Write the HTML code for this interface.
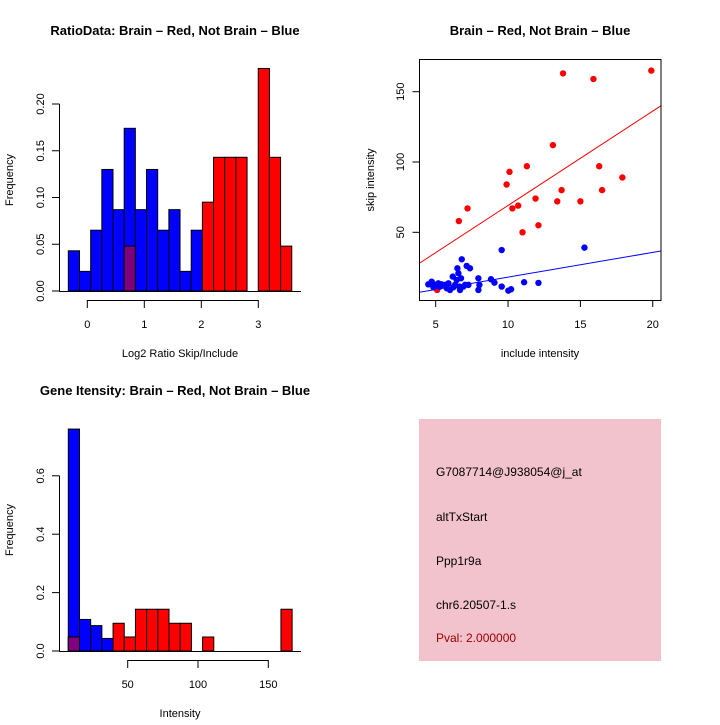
<!DOCTYPE html>
<html><head><meta charset="utf-8"><style>
html,body{margin:0;padding:0;background:#fff;}
svg text{font-family:"Liberation Sans",sans-serif;}
</style></head><body>
<svg id="fig" width="720" height="720" xmlns="http://www.w3.org/2000/svg">
<rect x="0" y="0" width="720" height="720" fill="#fff"/>
<g id="p1"></g>
<g id="p2"></g>
<g id="p3"></g>
<g id="p4">
<rect x="419" y="419" width="242" height="242" fill="#f2c3cd"/>
<text x="436" y="476" font-size="12">G7087714@J938054@j_at</text>
<text x="436" y="521" font-size="12">altTxStart</text>
<text x="436" y="565" font-size="12">Ppp1r9a</text>
<text x="436" y="609" font-size="12">chr6.20507-1.s</text>
<text x="436" y="642" font-size="12" fill="#a00000">Pval: 2.000000</text>
</g>
</svg>
<script>
// ---- Ratio histogram data ----
const ratioBinStart = -0.333;
const ratioBinWidth = 0.196;
const ratioBlue = [0.043,0.021,0.065,0.130,0.087,0.174,0.087,0.130,0.065,0.087,0.021,0.065,0,0,0,0,0,0,0,0];
const ratioRed  = [0,0,0,0,0,0.048,0,0,0,0,0,0,0.095,0.143,0.143,0.143,0,0.238,0.143,0.048];
const ratioXTicks = [0,1,2,3];
const ratioYTicks = [0,0.05,0.10,0.15,0.20];
const ratioYLabels = ["0.00","0.05","0.10","0.15","0.20"];
// ---- Scatter data ----
const redX = [6.6,7.2,9.9,10.1,10.3,10.7,11.0,11.3,11.9,12.1,13.1,13.4,13.7,13.8,15.0,15.9,16.3,16.5,17.9,19.9,5.1];
const redY = [58,67,84,93,67,69,50,97,74,55,112,72,80,163,72,159,97,80,89,165,9];
const blueX = [4.49,4.72,4.95,5.12,5.41,5.65,5.88,5.99,6.18,6.34,6.45,6.50,6.57,6.64,6.68,6.75,6.80,6.91,7.03,7.14,7.26,7.37,7.95,7.95,8.02,8.82,9.06,9.56,9.56,10.02,10.21,11.11,12.10,15.28,4.84,5.30,5.76,6.22,5.18];
const blueY = [13.0,14.9,12.6,11.8,13.0,12.6,13.7,9.0,18.5,12.6,16.1,24.4,20.9,11.4,9.0,17.3,30.8,11.4,12.6,26.1,12.6,24.4,17.3,9.0,12.6,16.6,14.2,11.4,37.4,8.5,9.5,14.5,14.0,39.1,10.9,11.4,10.2,10.9,13.7];
const redFit = [2.0, 6.71];   // intercept, slope
const blueFit = [0.5, 1.76];
const scXTicks = [5,10,15,20];
const scYTicks = [50,100,150];
// ---- Gene intensity histogram data ----
const intBinStart = 7.75;
const intBinWidth = 7.96;
const intBlue = [0.76,0.108,0.087,0.043,0,0,0,0,0,0,0,0,0,0,0,0,0,0,0,0];
const intRed  = [0.048,0,0,0,0.095,0.048,0.143,0.143,0.143,0.095,0.095,0,0.048,0,0,0,0,0,0,0.143];
const intXTicks = [50,100,150];
const intYTicks = [0,0.2,0.4,0.6];
const intYLabels = ["0.0","0.2","0.4","0.6"];

const NS="http://www.w3.org/2000/svg";
function mk(parent,tag,attrs,txt){const e=document.createElementNS(NS,tag);for(const k in attrs)e.setAttribute(k,attrs[k]);if(txt!==undefined)e.textContent=txt;parent.appendChild(e);return e;}

function hist(g,o){
  const sx=v=>o.x0+(v-o.xv0)*o.kx, sy=v=>o.y0-v*o.ky;
  for(let i=0;i<o.blue.length;i++){
    const a=o.binStart+i*o.binW, b=a+o.binW, x=sx(a), w=sx(b)-x;
    const r=o.red[i], bl=o.blue[i], mn=Math.min(r,bl);
    if(bl>0){const e=mk(g,'rect',{x:x,y:sy(bl),width:w,height:sy(0)-sy(bl),fill:'#0000ff',stroke:'#000','stroke-width':1});
      
      }
    if(r>0){const e=mk(g,'rect',{x:x,y:sy(r),width:w,height:sy(0)-sy(r),fill:'#ff0000',stroke:'#000','stroke-width':1});
      
      }
    if(mn>0){const e=mk(g,'rect',{x:x,y:sy(mn),width:w,height:sy(0)-sy(mn),fill:'#800080',stroke:'#000','stroke-width':1});
      
      }
  }
  mk(g,'line',{x1:59,y1:o.y0+0.5,x2:301,y2:o.y0+0.5,stroke:'#000'});
  // y axis
  const ya=o.yt;
  mk(g,'line',{x1:59.5,y1:sy(ya[0]),x2:59.5,y2:sy(ya[ya.length-1]),stroke:'#000'});
  ya.forEach((v,i)=>{mk(g,'line',{x1:52,y1:sy(v),x2:59.5,y2:sy(v),stroke:'#000'});
    const t=mk(g,'text',{x:0,y:0,'font-size':11,'text-anchor':'middle',transform:`translate(44,${sy(v)}) rotate(-90)`},o.yl[i]);
    
    });
  const xa=o.xt;
  mk(g,'line',{x1:sx(xa[0]),y1:o.xAxisY+0.5,x2:sx(xa[xa.length-1]),y2:o.xAxisY+0.5,stroke:'#000'});
  xa.forEach(v=>{mk(g,'line',{x1:sx(v),y1:o.xAxisY,x2:sx(v),y2:o.xAxisY+8,stroke:'#000'});
    const t=mk(g,'text',{x:sx(v),y:o.xAxisY+28,'font-size':11,'text-anchor':'middle'},String(v));
    
    });
  const ti=mk(g,'text',{x:175,y:o.titleY,'font-size':13,'font-weight':'bold','text-anchor':'middle'},o.title);
  
  
  const xl=mk(g,'text',{x:180,y:o.xAxisY+57,'font-size':11,'text-anchor':'middle'},o.xlab);
  
  
  const yl=mk(g,'text',{x:0,y:0,'font-size':11,'text-anchor':'middle',transform:`translate(13,${o.yMid}) rotate(-90)`},'Frequency');
  
  
}

hist(document.getElementById('p1'),{x0:87.3,xv0:0,kx:57,y0:291,ky:935,binStart:ratioBinStart,binW:ratioBinWidth,
  blue:ratioBlue,red:ratioRed,xt:ratioXTicks,yt:ratioYTicks,yl:ratioYLabels,xAxisY:300,titleY:35,
  title:'RatioData: Brain – Red, Not Brain – Blue',xlab:'Log2 Ratio Skip/Include',yMid:180});
hist(document.getElementById('p3'),{x0:127.7,xv0:50,kx:1.406,y0:651,ky:292,binStart:intBinStart,binW:intBinWidth,
  blue:intBlue,red:intRed,xt:intXTicks,yt:intYTicks,yl:intYLabels,xAxisY:660,titleY:395,
  title:'Gene Itensity: Brain – Red, Not Brain – Blue',xlab:'Intensity',yMid:530});

// scatter
(function(){
  const g=document.getElementById('p2');
  const L=419.5,R=661,T=59,B=300;
  const sx=v=>435.7+(v-5)*14.47, sy=v=>232.3-(v-50)*1.406;
  const defs=mk(g,'defs',{});const cp=mk(defs,'clipPath',{id:'clipsc'});mk(cp,'rect',{x:L,y:T,width:R-L,height:B-T});
  const cg=mk(g,'g',{'clip-path':'url(#clipsc)'});
  const xl0=3.8,xl1=20.7;
  const rl=mk(cg,'line',{x1:sx(xl0),y1:sy(redFit[0]+redFit[1]*xl0),x2:sx(xl1),y2:sy(redFit[0]+redFit[1]*xl1),stroke:'#ff0000'});
  
  
  const bln=mk(cg,'line',{x1:sx(xl0),y1:sy(blueFit[0]+blueFit[1]*xl0),x2:sx(xl1),y2:sy(blueFit[0]+blueFit[1]*xl1),stroke:'#0000ff'});
  
  
  redX.forEach((x,i)=>{const c=mk(cg,'circle',{cx:sx(x),cy:sy(redY[i]),r:3.2,fill:'#ff0000'});
    
    });
  blueX.forEach((x,i)=>{const c=mk(cg,'circle',{cx:sx(x),cy:sy(blueY[i]),r:3.2,fill:'#0000ff'});
    
    });
  const box=mk(g,'rect',{x:L,y:T+0.5,width:R-L,height:B-T,fill:'none',stroke:'#000'});
  
  
  scXTicks.forEach(v=>{mk(g,'line',{x1:sx(v),y1:B,x2:sx(v),y2:B+7,stroke:'#000'});
    const t=mk(g,'text',{x:sx(v),y:B+28,'font-size':11,'text-anchor':'middle'},String(v));
    
    });
  scYTicks.forEach(v=>{mk(g,'line',{x1:L-7,y1:sy(v),x2:L,y2:sy(v),stroke:'#000'});
    const t=mk(g,'text',{x:0,y:0,'font-size':11,'text-anchor':'middle',transform:`translate(404,${sy(v)}) rotate(-90)`},String(v));
    
    });
  const ti=mk(g,'text',{x:540,y:35,'font-size':13,'font-weight':'bold','text-anchor':'middle'},'Brain – Red, Not Brain – Blue');
  
  
  const xl=mk(g,'text',{x:540,y:357,'font-size':11,'text-anchor':'middle'},'include intensity');
  
  
  const yl=mk(g,'text',{x:0,y:0,'font-size':11,'text-anchor':'middle',transform:`translate(374,180) rotate(-90)`},'skip intensity');
  
  
})();
</script>
</body></html>
